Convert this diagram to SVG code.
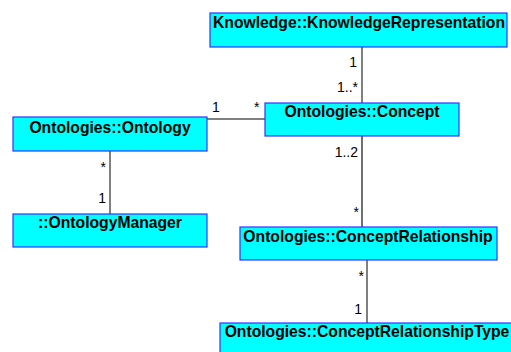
<svg xmlns="http://www.w3.org/2000/svg" width="511" height="352" viewBox="0 0 511 352">
<style>
.box{fill:#00ffff;stroke:#3333ff;stroke-width:1.2}
.name{font-family:"Liberation Sans",Arial,sans-serif;font-weight:bold;font-size:15.7px;fill:#000;text-anchor:middle}
.mult{font-family:"Liberation Sans",Arial,sans-serif;font-size:14px;fill:#000}
.edge{stroke:#000;stroke-width:1;fill:none}
</style>
<rect width="511" height="352" fill="#fff"/>
<g id="connectors">
<line class="edge" x1="362" y1="47" x2="362" y2="103"/>
<line class="edge" x1="207" y1="119" x2="265" y2="119"/>
<line class="edge" x1="110" y1="151" x2="110" y2="214" style="stroke:#808080;stroke-width:2"/>
<line class="edge" x1="362" y1="136" x2="362" y2="227" style="stroke:#404040;stroke-width:1.5"/>
<line class="edge" x1="367" y1="260" x2="367" y2="323"/>
<text class="mult" x="357" y="67" text-anchor="end">1</text>
<text class="mult" x="358" y="92" text-anchor="end">1..*</text>
<text class="mult" x="212" y="112">1</text>
<text class="mult" x="254" y="112">*</text>
<text class="mult" x="106" y="172" text-anchor="end">*</text>
<text class="mult" x="106" y="203" text-anchor="end">1</text>
<text class="mult" x="358" y="157" text-anchor="end">1..2</text>
<text class="mult" x="359" y="217" text-anchor="end">*</text>
<text class="mult" x="364" y="281" text-anchor="end">*</text>
<text class="mult" x="362" y="314" text-anchor="end">1</text>
</g>
<g id="knowledgeRepresentation">
<rect class="box" x="210" y="13" width="297" height="34"/>
<text class="name" x="359" y="28">Knowledge::KnowledgeRepresentation</text>
</g>
<g id="concept">
<rect class="box" x="265" y="103" width="194" height="33"/>
<text class="name" x="362" y="117">Ontologies::Concept</text>
</g>
<g id="ontology">
<rect class="box" x="13" y="117" width="194" height="34"/>
<text class="name" x="110" y="133">Ontologies::Ontology</text>
</g>
<g id="ontologyManager">
<rect class="box" x="13" y="214" width="194" height="33"/>
<text class="name" x="110" y="228">::OntologyManager</text>
</g>
<g id="conceptRelationship">
<rect class="box" x="240" y="227" width="257" height="33"/>
<text class="name" x="368" y="242">Ontologies::ConceptRelationship</text>
</g>
<g id="conceptRelationshipType">
<rect class="box" x="220" y="323" width="298" height="34"/>
<text class="name" x="367" y="337">Ontologies::ConceptRelationshipType</text>
</g>
</svg>
